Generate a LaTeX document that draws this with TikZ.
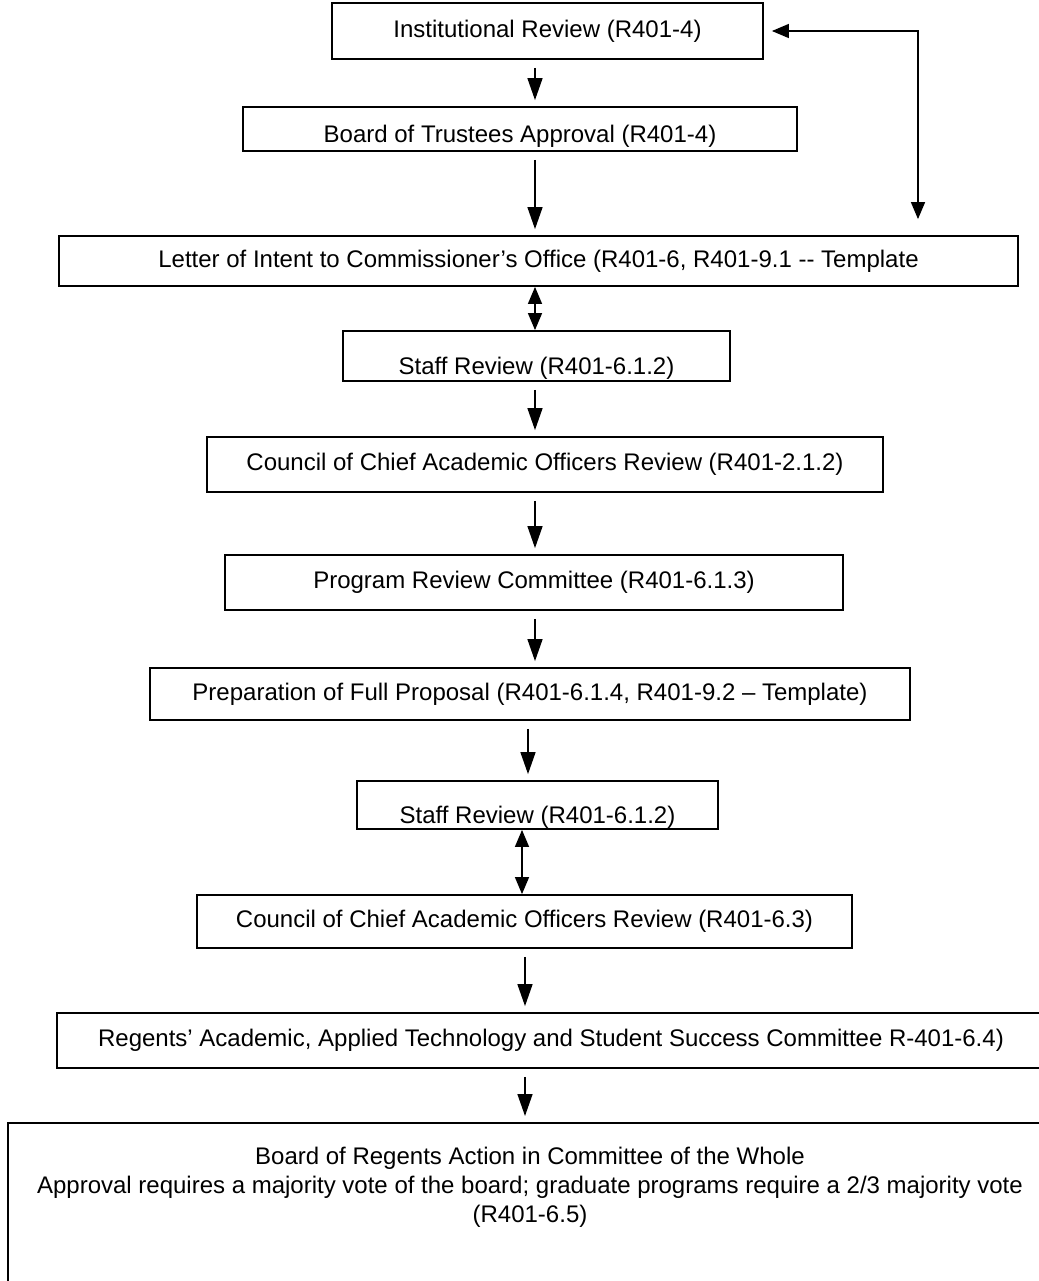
\documentclass[tikz,border=0pt]{standalone}
\usepackage{fontspec}
\setmainfont{Liberation Sans}
\usetikzlibrary{arrows.meta}

\tikzset{
    box/.style={draw, line width=0.9pt, inner sep=0pt, text centered},
    wh/.style 2 args={minimum width=#1*0.5pt, minimum height=#2*0.5pt},
    low/.style={text height=#1, text depth=0pt}
}

\begin{document}
\begin{tikzpicture}[
                x=0.5pt, y=-0.5pt,
                font=\fontsize{12pt}{14.5pt}\selectfont
            ]
            \tikzstyle{arr}=[line width=0.7pt, -{Triangle[length=11pt, width=7.5pt]}, shorten <=4pt, shorten >=3pt]
            \tikzstyle{both}=[line width=0.7pt, {Triangle[length=8.5pt, width=7pt]}-{Triangle[length=8.5pt, width=7pt]}]

            \useasboundingbox (0,0) rectangle (1039,1281);

            \node[box, wh={431}{56}] (inst) at (547.5,31) {Institutional Review (R401-4)};
            \node[box, wh={554}{44}, low=13.5pt] (trust) at (520,129) {Board of Trustees Approval (R401-4)};
            \node[box, wh={959}{50}] (letter) at (538.5,261) {Letter of Intent to Commissioner’s Office (R401-6, R401-9.1 {-}{-} Template};
            \node[box, wh={387}{50}, low=18pt] (staff) at (536.5,356) {Staff Review (R401-6.1.2)};
            \node[box, wh={676}{55}] (cao) at (545,464.5) {Council of Chief Academic Officers Review (R401-2.1.2)};
            \node[box, wh={618}{55}] (prc) at (534,582.5) {Program Review Committee (R401-6.1.3)};
            \node[box, wh={760}{52}] (prep) at (530,694) {Preparation of Full Proposal (R401-6.1.4, R401-9.2 – Template)};
            \node[box, wh={361}{48}, low=18pt] (staffb) at (537.5,805) {Staff Review (R401-6.1.2)};
            \node[box, wh={655}{53}] (caob) at (524.5,921.5) {Council of Chief Academic Officers Review (R401-6.3)};
            \node[box, wh={988}{55}] (regents) at (551,1040.5) {Regents’ Academic, Applied Technology and Student Success Committee R-401-6.4)};
            \node[box, wh={1044}{200}, anchor=north] (whole) at (530,1122) {};
            \node[align=center] (wholetext) at (530,1187) {Board of Regents Action in Committee of the Whole\\
            Approval requires a majority vote of the board; graduate programs require a 2/3 majority vote\\
            (R401-6.5)};

            % back to the institution
            \coordinate (back) at (918,31);
            \draw[both, shorten <=8pt, shorten >=4pt] (letter.north -| back) -- (back) -- (inst.east);

            \draw[arr] (inst.south -| 535,0) -- (trust.north -| 535,0);
            \draw[arr] (trust.south -| 535,0) -- (letter.north -| 535,0);
            \draw[both] (letter.south -| 535,0) -- (staff.north -| 535,0);
            \draw[arr] (staff.south -| 535,0) -- (cao.north -| 535,0);
            \draw[arr] (cao.south -| 535,0) -- (prc.north -| 535,0);
            \draw[arr] (prc.south -| 535,0) -- (prep.north -| 535,0);
            \draw[arr] (prep.south -| 528,0) -- (staffb.north -| 528,0);
            \draw[both] (staffb.south -| 522,0) -- (caob.north -| 522,0);
            \draw[arr] (caob.south -| 525,0) -- (regents.north -| 525,0);
            \draw[arr] (regents.south -| 525,0) -- (whole.north -| 525,0);
        \end{tikzpicture}
\end{document}
